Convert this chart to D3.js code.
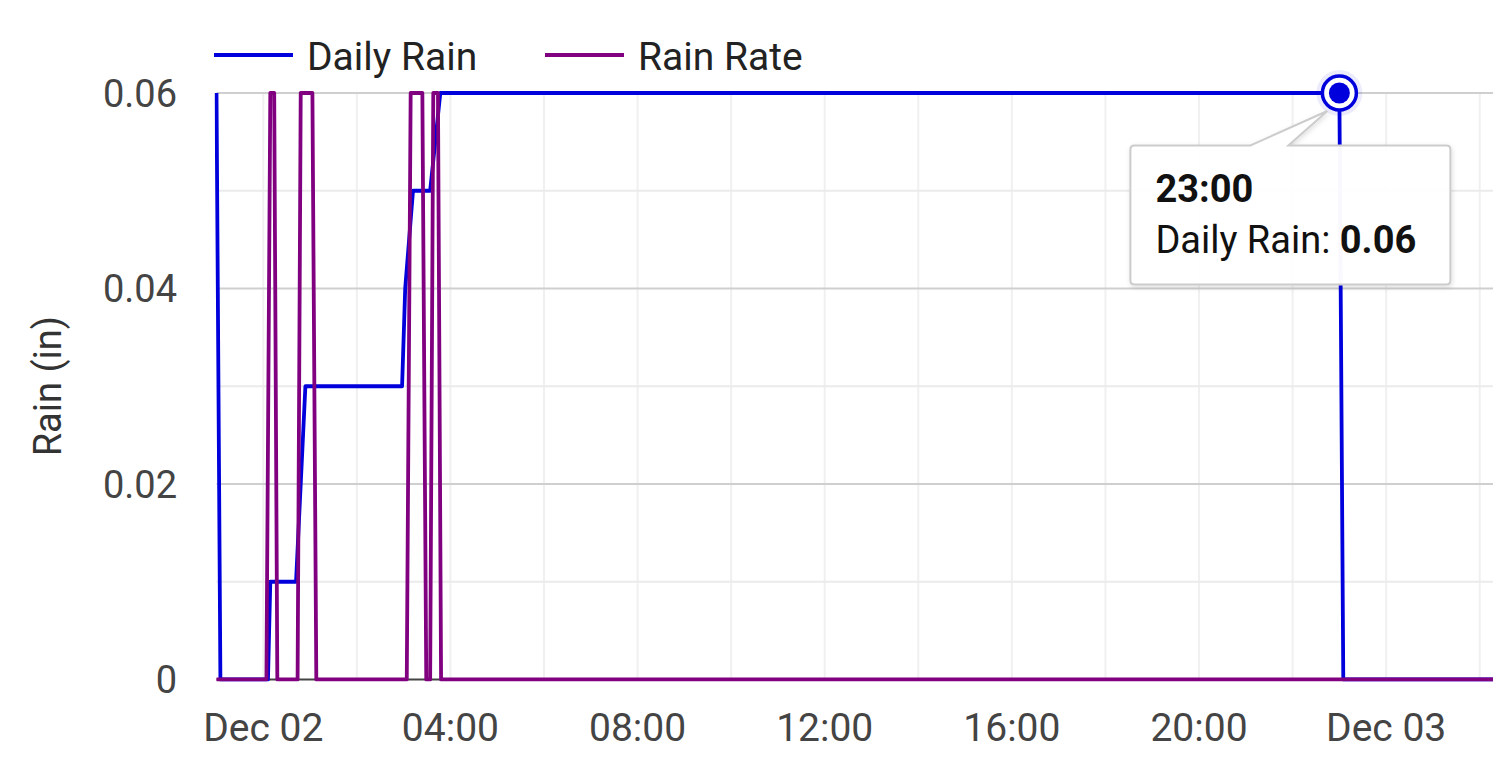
<!DOCTYPE html>
<html>
<head>
<meta charset="utf-8">
<script src="https://cdn.jsdelivr.net/npm/d3@7"></script>
<style>
  html, body { margin: 0; padding: 0; background: #fff; }
  svg { display: block; font-family: Roboto, "Noto Sans", sans-serif; }
</style>
</head>
<body>
<svg id="chart" width="1494" height="768"></svg>
<script>
// ---- data ----
const seriesNames = ["Daily Rain", "Rain Rate"];
const dailyRainTimes = ["2023-12-01 23:00","2023-12-01 23:05","2023-12-02 00:06","2023-12-02 00:09","2023-12-02 00:42","2023-12-02 00:54","2023-12-02 02:58","2023-12-02 03:02","2023-12-02 03:12","2023-12-02 03:34","2023-12-02 03:47","2023-12-02 23:00","2023-12-02 23:05","2023-12-03 02:17"];
const dailyRainValues = [0.06,0,0,0.01,0.01,0.03,0.03,0.04,0.05,0.05,0.06,0.06,0,0];
const rainRateTimes = ["2023-12-01 23:00","2023-12-02 00:04","2023-12-02 00:09","2023-12-02 00:14","2023-12-02 00:18","2023-12-02 00:44","2023-12-02 00:48","2023-12-02 01:03","2023-12-02 01:08","2023-12-02 03:04","2023-12-02 03:09","2023-12-02 03:24","2023-12-02 03:29","2023-12-02 03:34","2023-12-02 03:38","2023-12-02 03:44","2023-12-02 03:48","2023-12-03 02:17"];
const rainRateValues = [0,0,0.06,0.06,0,0,0.06,0.06,0,0,0.06,0.06,0,0,0.06,0.06,0,0];
const yTickValues = [0, 0.02, 0.04, 0.06];
const yTickLabels = ["0", "0.02", "0.04", "0.06"];
const yMinorValues = [0.01, 0.03, 0.05];
const xTickTimes = ["2023-12-02 00:00","2023-12-02 04:00","2023-12-02 08:00","2023-12-02 12:00","2023-12-02 16:00","2023-12-02 20:00","2023-12-03 00:00"];
const xTickLabels = ["Dec 02","04:00","08:00","12:00","16:00","20:00","Dec 03"];
const yAxisTitle = "Rain (in)";
const tooltipTime = "2023-12-02 23:00";
const tooltipTitle = "23:00";
const tooltipValueLabel = "0.06";
const colors = ["#0000dd", "#800080"];

// ---- chart ----
const parse = d3.timeParse("%Y-%m-%d %H:%M");
const dr = dailyRainTimes.map((t, i) => ({ t: parse(t), v: dailyRainValues[i] }));
const rr = rainRateTimes.map((t, i) => ({ t: parse(t), v: rainRateValues[i] }));

const svg = d3.select("#chart");
const x = d3.scaleTime()
  .domain([parse(dailyRainTimes[0]), parse(dailyRainTimes[dailyRainTimes.length - 1])])
  .range([216.5, 1493]);
const y = d3.scaleLinear().domain([0, 0.06]).range([679.5, 93]);

const [x0, x1] = x.range();

// vertical grid every 2h
const vGrid = d3.timeHour.every(2).range(parse("2023-12-02 00:00"), x.domain()[1]);
svg.append("g").selectAll("line").data(vGrid).join("line")
  .attr("x1", d => x(d)).attr("x2", d => x(d))
  .attr("y1", y(0.06)).attr("y2", y(0))
  .attr("stroke", "#f0f0f0").attr("stroke-width", 2);

// minor horizontal grid
svg.append("g").selectAll("line").data(yMinorValues).join("line")
  .attr("x1", x0).attr("x2", x1)
  .attr("y1", d => y(d)).attr("y2", d => y(d))
  .attr("stroke", "#ebebeb").attr("stroke-width", 2);

// major horizontal grid
svg.append("g").selectAll("line").data(yTickValues.filter(v => v > 0)).join("line")
  .attr("x1", x0).attr("x2", x1)
  .attr("y1", d => y(d)).attr("y2", d => y(d))
  .attr("stroke", "#cfcfcf").attr("stroke-width", 2);

// x axis line
svg.append("line").attr("x1", x0).attr("x2", x1).attr("y1", y(0)).attr("y2", y(0))
  .attr("stroke", "#444").attr("stroke-width", 2);

// y tick labels
svg.append("g").selectAll("text").data(yTickValues).join("text")
  .attr("x", 177).attr("y", d => y(d) + 13.5)
  .attr("text-anchor", "end")
  .attr("font-size", 38).attr("fill", "#444")
  .text((d, i) => yTickLabels[i]);

// x tick labels
svg.append("g").selectAll("text").data(xTickTimes).join("text")
  .attr("x", d => x(parse(d))).attr("y", 741)
  .attr("text-anchor", "middle")
  .attr("font-size", 39).attr("fill", "#444")
  .text((d, i) => xTickLabels[i]);

// y axis title
svg.append("text")
  .attr("transform", `translate(61, ${(y(0) + y(0.06)) / 2}) rotate(-90)`)
  .attr("text-anchor", "middle")
  .attr("font-size", 38).attr("fill", "#333")
  .text(yAxisTitle);

// lines
const line = d3.line().x(d => x(d.t)).y(d => y(d.v));
svg.append("clipPath").attr("id", "plotclip")
  .append("rect").attr("x", x0 - 2).attr("y", y(0.06) - 2).attr("width", x1 - x0 + 4).attr("height", y(0) - y(0.06) + 4);
const plot = svg.append("g").attr("clip-path", "url(#plotclip)");
plot.append("path").datum(dr).attr("d", line)
  .attr("fill", "none").attr("stroke", colors[0]).attr("stroke-width", 3.8)
  .attr("stroke-linejoin", "round");
plot.append("path").datum(rr).attr("d", line)
  .attr("fill", "none").attr("stroke", colors[1]).attr("stroke-width", 3.8)
  .attr("stroke-linejoin", "round");

// legend
const legend = svg.append("g");
const legendItems = [{ x: 214 }, { x: 545 }];
legendItems.forEach((it, i) => {
  legend.append("line").attr("x1", it.x).attr("x2", it.x + 79).attr("y1", 55).attr("y2", 55)
    .attr("stroke", colors[i]).attr("stroke-width", 4);
  legend.append("text").attr("x", it.x + 93).attr("y", 70)
    .attr("font-size", 39).attr("fill", "#222").text(seriesNames[i]);
});

// hover marker
const pt = dr.find(d => +d.t === +parse(tooltipTime));
const px = x(pt.t), py = y(pt.v);
svg.append("circle").attr("cx", px).attr("cy", py).attr("r", 23)
  .attr("fill", colors[0]).attr("fill-opacity", 0.08);
svg.append("circle").attr("cx", px).attr("cy", py).attr("r", 17)
  .attr("fill", "#fff").attr("stroke", colors[0]).attr("stroke-width", 3.5);
svg.append("circle").attr("cx", px).attr("cy", py).attr("r", 10.5)
  .attr("fill", colors[0]);

// tooltip
const defs = svg.append("defs");
const f = defs.append("filter").attr("id", "shadow").attr("x", "-10%").attr("y", "-10%").attr("width", "130%").attr("height", "130%");
f.append("feDropShadow").attr("dx", 1).attr("dy", 2).attr("stdDeviation", 2.5).attr("flood-color", "#000").attr("flood-opacity", 0.12);

const bx = px - 209, by = py + 52.5, bw = 320, bh = 139, r = 4;
const ax = px - 12, ay = py + 18;
const n1 = px - 89, n2 = px - 51;
const tipPath = `M${bx + r},${by} L${n1},${by} L${ax},${ay} L${n2},${by} L${bx + bw - r},${by} Q${bx + bw},${by} ${bx + bw},${by + r} L${bx + bw},${by + bh - r} Q${bx + bw},${by + bh} ${bx + bw - r},${by + bh} L${bx + r},${by + bh} Q${bx},${by + bh} ${bx},${by + bh - r} L${bx},${by + r} Q${bx},${by} ${bx + r},${by} Z`;
svg.append("path").attr("d", tipPath)
  .attr("fill", "#fff").attr("fill-opacity", 0.97)
  .attr("stroke", "#cccccc").attr("stroke-width", 2)
  .attr("filter", "url(#shadow)");

svg.append("text").attr("x", bx + 25).attr("y", by + 56)
  .attr("font-size", 38).attr("font-weight", "bold").attr("fill", "#111")
  .text(tooltipTitle);
const t2 = svg.append("text").attr("x", bx + 25).attr("y", by + 107)
  .attr("font-size", 38).attr("fill", "#111");
t2.append("tspan").text(seriesNames[0] + ": ");
t2.append("tspan").attr("font-weight", "bold").text(tooltipValueLabel);
</script>
</body>
</html>
